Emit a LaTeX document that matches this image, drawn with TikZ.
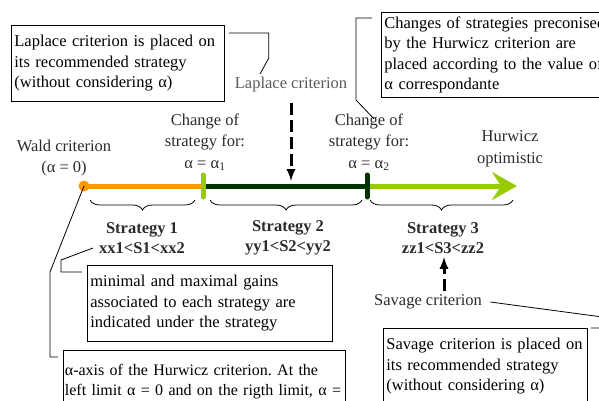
\documentclass[tikz,border=0pt]{standalone}
\usepackage{fontspec}
\setmainfont{Liberation Serif}
\usetikzlibrary{arrows.meta, decorations.pathreplacing}
\tikzset{>=latex}
\frenchspacing
\definecolor{waldorange}{HTML}{FF9900}
\definecolor{hurwgreen}{HTML}{99CC00}
\definecolor{midgreen}{HTML}{003300}
\definecolor{textgray}{HTML}{2B2B2B}
\tikzset{
    notebox/.style={draw, line width=0.8pt, anchor=north west, align=left, inner xsep=3pt,
        minimum height=76pt, font=\fontsize{16.5}{20.5}\selectfont},
    axistext/.style={align=center, text=textgray, font=\fontsize{16.5}{21.5}\selectfont},
    strattext/.style={align=center, text=textgray, font=\bfseries\fontsize{16.5}{20}\selectfont},
    critarrow/.style={->, line width=3pt, dash pattern=on 12pt off 5pt},
    stratbrace/.style={line width=0.8pt, decorate, decoration={brace, mirror, amplitude=10pt}},
    pointer/.style={line width=0.8pt},
    axisline/.style={line width=5pt}
}

\begin{document}
\begin{tikzpicture}[x=1pt, y=-1pt]
    \useasboundingbox (0, 0) rectangle (599, 401);
    \clip (0, 0) rectangle (599, 401);

    % alpha axis
    \coordinate (alpha0) at (84, 186);
    \coordinate (alpha1) at (203, 186);
    \coordinate (alpha2) at (367, 186);
    \coordinate (alphaend) at (517, 186);
    \draw [axisline, waldorange] (alpha0) -- (alpha1);
    \fill [waldorange] (alpha0) circle (5.5pt);
    \draw [axisline, midgreen] (alpha1) -- (alpha2);
    \draw [axisline, hurwgreen, -{Stealth[length=25pt, width=28pt, inset=9pt]}] (alpha2) -- (alphaend);
    \draw [axisline, hurwgreen, line cap=round] ([yshift=11pt]alpha1) -- ([yshift=-11pt]alpha1);
    \draw [axisline, midgreen, line cap=round] ([yshift=11pt]alpha2) -- ([yshift=-11pt]alpha2);

    \node [axistext] (wald) at (64, 158) {Wald criterion\\(α = 0)};
    \node [axistext] (change1) at (205, 142) {Change of\\strategy for:\\α = α\textsubscript{1}};
    \node [axistext] (change2) at (369, 142) {Change of\\strategy for:\\α = α\textsubscript{2}};
    \node [axistext] (hurwicz) at (510, 149) {Hurwicz\\optimistic};

    % strategies
    \draw [stratbrace] ([shift={(6, 14)}]alpha0) -- ([shift={(-8, 14)}]alpha1);
    \draw [stratbrace] ([shift={(7, 14)}]alpha1) -- ([shift={(-5, 14)}]alpha2);
    \draw [stratbrace] ([shift={(3, 14)}]alpha2) -- ([shift={(-4, 14)}]alphaend);
    \node [strattext] (strat1) at (142, 238) {Strategy 1\\xx1<S1<xx2};
    \node [strattext] (strat2) at (288, 238) {Strategy 2\\yy1<S2<yy2};
    \node [strattext] (strat3) at (443, 238) {Strategy 3\\zz1<S3<zz2};

    % Laplace
    \node [notebox, text width=207pt] (laplacebox) at (11, 25) {Laplace criterion is placed on\\its recommended strategy\\(without considering α)};
    \node [axistext, text=black!65] (laplace) at (291, 85) {Laplace criterion};
    \draw [pointer] ([shift={(4, 8)}]laplacebox.north east) -- ++(40, 0) -- ++(0, 25) -- ([xshift=-31pt]laplace.north);
    \coordinate (laplacetip) at (291, 181);
    \draw [critarrow] ([yshift=-7pt]laplace.south) -- (laplacetip);

    % Hurwicz
    \node [notebox, minimum height=85pt, text width=260pt] (hurwiczbox) at (381, 12) {Changes of strategies preconised\\by the Hurwicz criterion are\\placed according to the value of\\α correspondante};
    \draw [pointer] ([shift={(-9, 6)}]hurwiczbox.north west) -- ++(-16, 0) -- ++(0, 82) -- ([shift={(5, 9)}]change2.north);

    % gains and axis notes
    \node [notebox, text width=239pt] (gainsbox) at (87, 265) {minimal and maximal gains\\associated to each strategy are\\indicated under the strategy};
    \draw [pointer] ([shift={(-49, 10)}]strat1.center) -- ++(-32, 12) -- ++(0, 12) -- ([shift={(-5, 7)}]gainsbox.north west);
    \node [notebox, minimum height=78pt, inner xsep=1.5pt, text width=279pt,
        font=\fontsize{16}{20}\selectfont] (axisbox) at (63, 350) {α-axis of the Hurwicz criterion. At the\\left limit α = 0 and on the rigth limit, α =\\1};
    \draw [pointer] (alpha0) -- ++(-34, 86) |- ([shift={(-5, 7)}]axisbox.north west);

    % Savage
    \node [axistext] (savage) at (428, 302) {Savage criterion};
    \coordinate (savagetip) at (444, 257);
    \draw [critarrow] (savagetip |- savage.north) -- (savagetip);
    \node [notebox, text width=198pt] (savagebox) at (383, 328) {Savage criterion is placed on\\its recommended strategy\\(without considering α)};
    \draw [pointer] ([xshift=5pt]savage.east) -- ++(127, 17) |- ([xshift=3pt]savagebox.north east);
\end{tikzpicture}
\end{document}
